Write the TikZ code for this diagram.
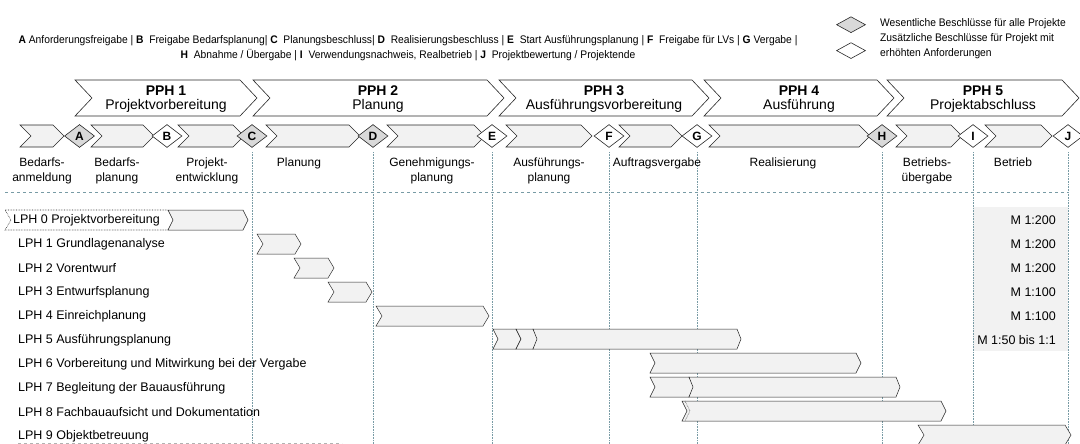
\documentclass[tikz,border=0pt]{standalone}
\usepackage{fontspec}
\setmainfont{Liberation Sans}
\newfontfamily\narrowfont{Liberation Sans}[FakeStretch=0.935]
\usetikzlibrary{shapes.geometric}
\definecolor{barfill}{RGB}{242,242,242}
\definecolor{gatefill}{RGB}{217,217,217}
\definecolor{gridc}{RGB}{120,155,165}
\definecolor{linec}{RGB}{40,40,40}
\newcommand{\chv}[6][]{\draw[#1] (#2,#4) -- (#3,#4) -- ({#3+#6},{(#4+#5)/2}) -- (#3,#5) -- (#2,#5) -- ({#2+#6},{(#4+#5)/2}) -- cycle;}
\begin{document}
\begin{tikzpicture}[x=1pt,y=-1pt,
  pph/.style={draw=linec, fill=white, line width=0.6pt},
  sub/.style={draw=linec, fill=barfill, line width=0.6pt},
  bar/.style={draw=linec, fill=barfill, line width=0.5pt},
  gate/.style={diamond, draw=linec, fill=white, line width=0.6pt, minimum width=30pt, minimum height=23pt, inner sep=0pt, font=\bfseries\fontsize{12}{12}\selectfont},
  gategray/.style={gate, fill=gatefill},
  grid/.style={draw=gridc, densely dotted, line width=0.6pt},
  lbl/.style={align=center, anchor=north, font=\fontsize{12}{15}\selectfont, inner sep=0pt},
  lph/.style={anchor=west, font=\fontsize{12.5}{15}\selectfont, inner sep=0pt},
  scl/.style={anchor=east, font=\fontsize{12.5}{15}\selectfont, inner sep=0pt},
  pphnum/.style={font=\bfseries\fontsize{14}{14}\selectfont, inner sep=0pt},
  pphname/.style={font=\fontsize{14}{14}\selectfont, inner sep=0pt},
  legtext/.style={font=\narrowfont\fontsize{11}{15}\selectfont, inner sep=0pt}]
\useasboundingbox (0,0) rectangle (1080,444);
\clip (0,0) rectangle (1080,444);
\fill[white] (0,0) rectangle (1080,444);

% legend
\node[legtext, align=center] (legend) at (408,48.5) {{\bfseries A} Anforderungsfreigabe | {\bfseries B}\ \ Freigabe Bedarfsplanung| {\bfseries C}\ \ Planungsbeschluss| {\bfseries D}\ \ Realisierungsbeschluss | {\bfseries E}\ \ Start Ausführungsplanung | {\bfseries F}\ \ Freigabe für LVs | {\bfseries G} Vergabe |\\
{\bfseries H}\ \ Abnahme / Übergabe | {\bfseries I}\ \ Verwendungsnachweis, Realbetrieb | {\bfseries J}\ \ Projektbewertung / Projektende};
\node[gategray, minimum width=29pt, minimum height=16pt] (lg1) at (851,24.7) {};
\node[gate, minimum width=29pt, minimum height=16pt] (lg2) at (851,50.6) {};
\node[legtext, anchor=west] (lt1) at (880,24) {Wesentliche Beschlüsse für alle Projekte};
\node[legtext, anchor=west, align=left] (lt2) at (880,46.5) {Zusätzliche Beschlüsse für Projekt mit\\erhöhten Anforderungen};

% PPH chevrons
\chv[pph]{75}{240}{80}{116}{17}
\chv[pph]{253}{487}{80}{116}{17}
\chv[pph]{499}{692}{80}{116}{17}
\chv[pph]{704}{877}{80}{116}{17}
\chv[pph]{887}{1062}{80}{116}{17}
\node[pphnum] (p1) at (166,91) {PPH 1};
\node[pphname] (p1n) at (166,106) {Projektvorbereitung};
\node[pphnum] (p2) at (378,91) {PPH 2};
\node[pphname] (p2n) at (378,106) {Planung};
\node[pphnum] (p3) at (604,91) {PPH 3};
\node[pphname] (p3n) at (604,106) {Ausführungsvorbereitung};
\node[pphnum] (p4) at (799,91) {PPH 4};
\node[pphname] (p4n) at (799,106) {Ausführung};
\node[pphnum] (p5) at (983,91) {PPH 5};
\node[pphname] (p5n) at (983,106) {Projektabschluss};

% second row chevrons
\chv[sub]{20}{53}{125}{147}{11}
\chv[sub]{91}{143}{125}{147}{11}
\chv[sub]{178}{233}{125}{147}{11}
\chv[sub]{266}{349}{125}{147}{11}
\chv[sub]{387}{474}{125}{147}{11}
\chv[sub]{506}{581}{125}{147}{11}
\chv[sub]{619}{671}{125}{147}{11}
\chv[sub]{709}{859}{125}{147}{11}
\chv[sub]{896}{951}{125}{147}{11}
\chv[sub]{985}{1041}{125}{147}{11}
\node[gategray] (A) at (79.5,136) {A};
\node[gate] (B) at (167,136) {B};
\node[gategray] (C) at (252,136) {C};
\node[gategray] (D) at (373,136) {D};
\node[gate] (E) at (492,136) {E};
\node[gate] (F) at (609,136) {F};
\node[gate] (G) at (697,136) {G};
\node[gategray] (H) at (882,136) {H};
\node[gate] (I) at (973,136) {I};
\node[gate] (J) at (1068,136) {J};

% scale background
\fill[barfill] (973,207) rectangle (1068,351);

% grid lines
\foreach \gx in {252,373,492,609,697,882,973,1068}
  \draw[grid] (\gx,152) -- (\gx,444);
\draw[draw=gridc, dashed, line width=0.6pt] (5,192) -- (1068,192);
\draw[draw=gray!60, dashed, line width=0.5pt] (18,443) -- (342,443);

% column labels
\node[lbl] (c1) at (42,158) {Bedarfs-\\anmeldung};
\node[lbl] (c2) at (117,158) {Bedarfs-\\planung};
\node[lbl] (c3) at (207,158) {Projekt-\\entwicklung};
\node[lbl] (c4) at (299,158) {Planung};
\node[lbl] (c5) at (432,158) {Genehmigungs-\\planung};
\node[lbl] (c6) at (549,158) {Ausführungs-\\planung};
\node[lbl] (c7) at (657,158) {Auftragsvergabe};
\node[lbl] (c8) at (783,158) {Realisierung};
\node[lbl] (c9) at (927,158) {Betriebs-\\übergabe};
\node[lbl] (c10) at (1013,158) {Betrieb};

% LPH bars
\chv[draw=linec, densely dotted, fill=white, line width=0.6pt]{5}{168}{210}{230}{6}
\chv[bar]{168}{243}{210}{230}{5}
\chv[bar]{257}{295}{234}{254}{6}
\chv[bar]{294}{328}{258}{278}{6}
\chv[bar]{328}{366}{282}{302}{6}
\chv[bar]{376}{483}{306}{326}{6}
\chv[bar]{493}{516}{329}{349}{5}
\chv[bar]{516}{533}{329}{349}{5}
\chv[bar]{533}{737}{329}{349}{4}
\chv[bar]{650}{856}{353}{373}{5}
\chv[bar]{650}{689}{377}{397}{5}
\chv[bar]{689}{896}{377}{397}{4}
\chv[bar]{682}{941}{401}{421}{5}
\draw[draw=linec, densely dotted, line width=0.5pt] (685,401) -- (690,411) -- (685,421);
\chv[bar]{918}{1065}{425}{445}{6}

% LPH labels
\node[lph] (l0) at (13,220) {LPH 0 Projektvorbereitung};
\node[lph] (l1) at (18,244) {LPH 1 Grundlagenanalyse};
\node[lph] (l2) at (18,268) {LPH 2 Vorentwurf};
\node[lph] (l3) at (18,292) {LPH 3 Entwurfsplanung};
\node[lph] (l4) at (18,316) {LPH 4 Einreichplanung};
\node[lph] (l5) at (18,340) {LPH 5 Ausführungsplanung};
\node[lph] (l6) at (18,364) {LPH 6 Vorbereitung und Mitwirkung bei der Vergabe};
\node[lph] (l7) at (18,388) {LPH 7 Begleitung der Bauausführung};
\node[lph] (l8) at (18,412) {LPH 8 Fachbauaufsicht und Dokumentation};
\node[lph] (l9) at (18,436) {LPH 9 Objektbetreuung};

% scales
\node[scl] (s0) at (1056,220) {M 1:200};
\node[scl] (s1) at (1056,244) {M 1:200};
\node[scl] (s2) at (1056,268) {M 1:200};
\node[scl] (s3) at (1056,292) {M 1:100};
\node[scl] (s4) at (1056,316) {M 1:100};
\node[scl] (s5) at (1056,340) {M 1:50 bis 1:1};
\end{tikzpicture}
\end{document}
